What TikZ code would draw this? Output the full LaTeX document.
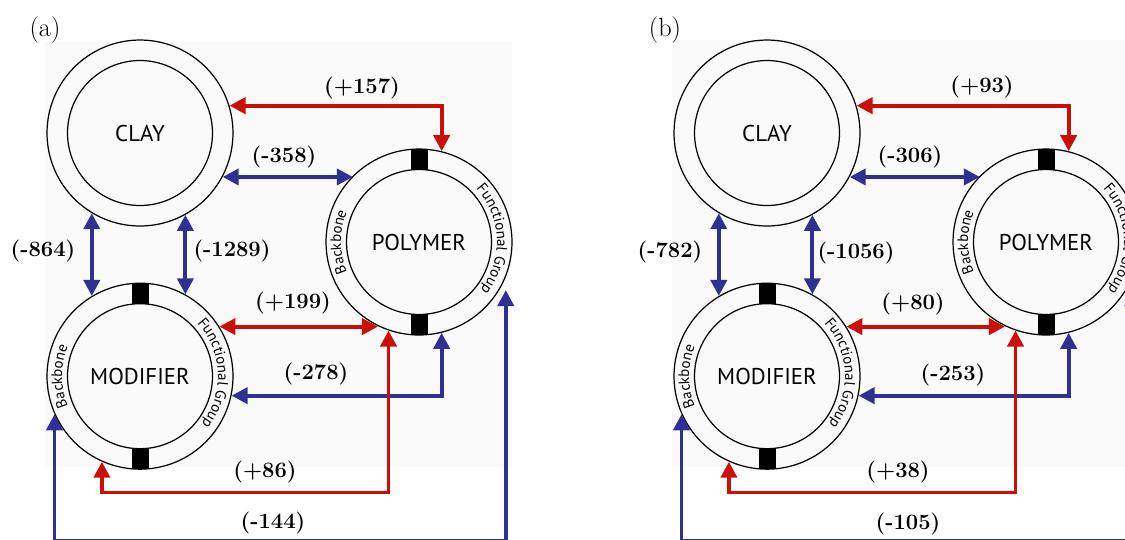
\documentclass[tikz,border=0pt]{standalone}
\usepackage{fontspec}
\newfontfamily\labelsans{PT Sans}
\usetikzlibrary{positioning,arrows.meta,decorations.text}
\definecolor{gainred}{RGB}{204,14,6}
\definecolor{lossblue}{RGB}{46,49,146}

\begin{document}
\begin{tikzpicture}[
  x=0.02cm, y=0.02cm,
  ring/.style={circle, draw, line width=0.7pt, minimum size=3.72cm, inner sep=0pt},
  core/.style={circle, draw, line width=0.7pt, minimum size=2.9cm, inner sep=0pt,
               font=\labelsans\fontsize{13}{15}\selectfont},
  tab/.style={fill=black, minimum width=3.4mm, minimum height=4.2mm, inner sep=0pt},
  gain/.style={draw=gainred, line width=2.2pt,
               {Triangle[length=3.2mm,width=3.2mm]}-{Triangle[length=3.2mm,width=3.2mm]}},
  loss/.style={gain, draw=lossblue},
  val/.style={font=\bfseries\fontsize{12.5}{14}\selectfont, inner sep=1pt},
  panel/.style={font=\fontsize{15}{17}\selectfont},
  ringtext/.style={decorate, decoration={text along path, text align=center,
                   text={|\labelsans\fontsize{8.5}{9}\selectfont|#1}}}
]
\useasboundingbox (0,0) rectangle (1125,-539);
% faint panel backgrounds
\fill[black!2] (45,-42) rectangle (512,-467);
\fill[black!2] (672,-40) rectangle (1125,-467);

% ---- panel (a)
\node[panel] (taga) at (45,-30) {(a)};
\node[ring] (clay) at (140,-133) {};
\node[core] (clayin) at (clay) {CLAY};
\node[ring] (poly) at (419,-242) {};
\node[core] (polyin) at (poly) {POLYMER};
\node[ring, below=1.12cm of clay] (mod) {};
\node[core] (modin) at (mod) {MODIFIER};
\node[tab, anchor=north] (polytop) at (poly.north) {};
\node[tab, anchor=south] (polybot) at (poly.south) {};
\node[tab, anchor=north] (modtop) at (mod.north) {};
\node[tab, anchor=south] (modbot) at (mod.south) {};
\path[ringtext=Backbone] (poly.center) ++(215:1.56cm) arc[start angle=215, end angle=145, radius=1.56cm];
\path[ringtext=Functional Group] (poly.center) ++(50:1.56cm) arc[start angle=50, end angle=-45, radius=1.56cm];
\path[ringtext=Backbone] (mod.center) ++(215:1.56cm) arc[start angle=215, end angle=145, radius=1.56cm];
\path[ringtext=Functional Group] (mod.center) ++(50:1.56cm) arc[start angle=50, end angle=-45, radius=1.56cm];
% connectors
\draw[gain] (clay.17.5) -| (poly.76.3);
\draw[loss] (clay.-28.2) -- (clay.-28.2 -| poly.135.7);
\draw[loss] (clay.-121.1) -- (clay.-121.1 |- mod.121.1);
\draw[loss] (clay.-61.1) -- (clay.-61.1 |- mod.61.1);
\draw[gain] (mod.32.5) -- (mod.32.5 -| poly.-116.8);
\draw[loss] (poly.-76.3) |- (mod.-12.4);
\draw[gain] (poly.-109.5) -- ++(0,-162) -| (mod.-114.1);
\draw[loss, shorten >=2.6mm] (mod.-156.1) -- ++(0,-127) -| (poly.-22.4);
% values
\node[val] (v157) at (362,-88) {(+157)};
\node[val] (v358) at (284,-157) {(-358)};
\node[val] (v864) at (43,-251) {(-864)};
\node[val] (v1289) at (232,-251) {(-1289)};
\node[val] (v199) at (293,-303) {(+199)};
\node[val] (v278) at (316,-374) {(-278)};
\node[val] (v86) at (265,-472) {(+86)};
\node[val] (v144) at (273,-523) {(-144)};

% ---- panel (b)
\node[panel] (tagb) at (665,-30) {(b)};
\node[ring] (clay2) at (767,-133) {};
\node[core] (clayin2) at (clay2) {CLAY};
\node[ring] (poly2) at (1046,-242) {};
\node[core] (polyin2) at (poly2) {POLYMER};
\node[ring, below=1.12cm of clay2] (mod2) {};
\node[core] (modin2) at (mod2) {MODIFIER};
\node[tab, anchor=north] (polytop2) at (poly2.north) {};
\node[tab, anchor=south] (polybot2) at (poly2.south) {};
\node[tab, anchor=north] (modtop2) at (mod2.north) {};
\node[tab, anchor=south] (modbot2) at (mod2.south) {};
\path[ringtext=Backbone] (poly2.center) ++(215:1.56cm) arc[start angle=215, end angle=145, radius=1.56cm];
\path[ringtext=Functional Group] (poly2.center) ++(50:1.56cm) arc[start angle=50, end angle=-45, radius=1.56cm];
\path[ringtext=Backbone] (mod2.center) ++(215:1.56cm) arc[start angle=215, end angle=145, radius=1.56cm];
\path[ringtext=Functional Group] (mod2.center) ++(50:1.56cm) arc[start angle=50, end angle=-45, radius=1.56cm];
% connectors
\draw[gain] (clay2.17.5) -| (poly2.76.3);
\draw[loss] (clay2.-28.2) -- (clay2.-28.2 -| poly2.135.7);
\draw[loss] (clay2.-121.1) -- (clay2.-121.1 |- mod2.121.1);
\draw[loss] (clay2.-61.1) -- (clay2.-61.1 |- mod2.61.1);
\draw[gain] (mod2.32.5) -- (mod2.32.5 -| poly2.-116.8);
\draw[loss] (poly2.-76.3) |- (mod2.-12.4);
\draw[gain] (poly2.-109.5) -- ++(0,-162) -| (mod2.-114.1);
\draw[loss, shorten >=2.6mm] (mod2.-156.1) -- ++(0,-127) -| (poly2.-22.4);
% values
\node[val] (v93) at (982,-87) {(+93)};
\node[val] (v306) at (910,-157) {(-306)};
\node[val] (v782) at (670,-252) {(-782)};
\node[val] (v1056) at (856,-253) {(-1056)};
\node[val] (v80) at (913,-304) {(+80)};
\node[val] (v253) at (953,-375) {(-253)};
\node[val] (v38) at (898,-472) {(+38)};
\node[val] (v105) at (908,-524) {(-105)};
\end{tikzpicture}
\end{document}
